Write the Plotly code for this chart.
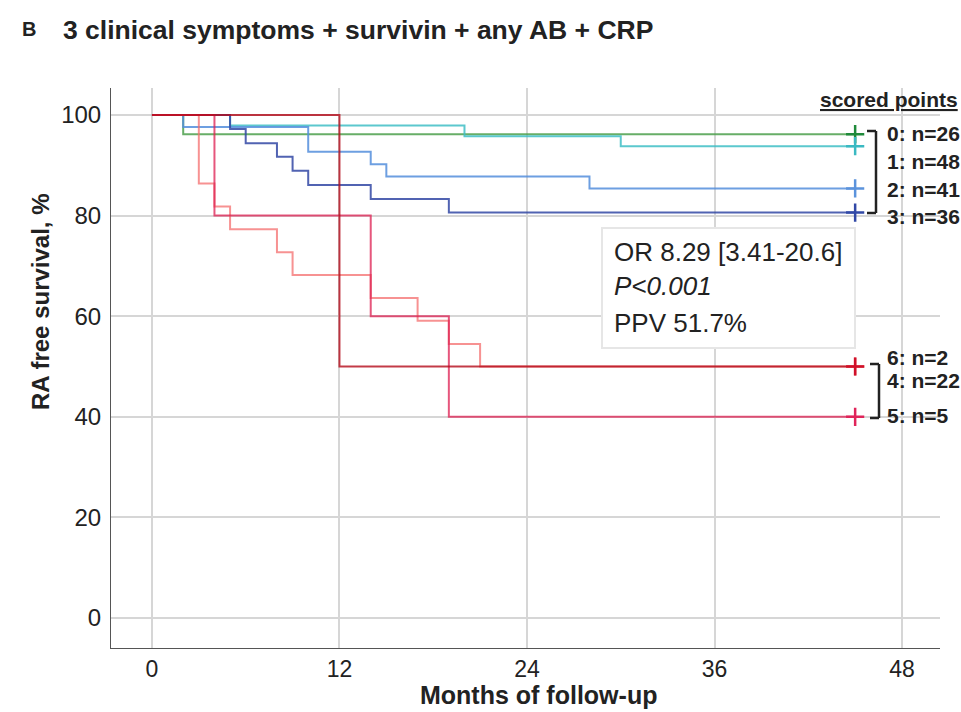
import plotly.graph_objects as go

# ---- data ----
groups = ["0", "1", "2", "3", "4", "5", "6"]
g0_t = [0, 2, 45];                                g0_s = [100, 96.2, 96.2]
g1_t = [0, 5, 20, 30, 45];                        g1_s = [100, 97.9, 95.8, 93.8, 93.8]
g2_t = [0, 2, 10, 14, 15, 28, 45];                g2_s = [100, 97.6, 92.7, 90.2, 87.8, 85.4, 85.4]
g3_t = [0, 5, 6, 8, 9, 10, 14, 19, 45];           g3_s = [100, 97.2, 94.4, 91.7, 88.9, 86.1, 83.3, 80.6, 80.6]
g4_t = [0, 3, 4, 5, 8, 9, 14, 17, 19, 21, 45];    g4_s = [100, 86.4, 81.8, 77.3, 72.7, 68.2, 63.6, 59.1, 54.5, 50.0, 50.0]
g5_t = [0, 4, 14, 19, 45];                        g5_s = [100, 80, 60, 40, 40]
g6_t = [0, 12, 45];                               g6_s = [100, 50, 50]
censor_time = 45

upper_labels = ["0: n=26", "1: n=48", "2: n=41", "3: n=36"]
lower_labels = ["6: n=2", "4: n=22", "5: n=5"]
x_ticks = [0, 12, 24, 36, 48]
y_ticks = [0, 20, 40, 60, 80, 100]
stats_lines = ["OR 8.29 [3.41-20.6]", "<i>P<0.001</i>", "PPV 51.7%"]

series = [
    (g0_t, g0_s, "rgba(76,160,76,0.85)", "#1f8a3a"),
    (g1_t, g1_s, "rgba(64,190,198,0.85)", "#3ab9c2"),
    (g2_t, g2_s, "rgba(84,142,220,0.85)", "#5b93dc"),
    (g3_t, g3_s, "rgba(50,72,165,0.85)", "#3148a6"),
    (g4_t, g4_s, "rgba(244,110,110,0.75)", "#f06a6a"),
    (g5_t, g5_s, "rgba(222,30,80,0.75)", "#e0245a"),
    (g6_t, g6_s, "rgba(180,10,25,0.80)", "#d0102a"),
]

FONT = "Liberation Sans, Arial, sans-serif"
fig = go.Figure()
for t, s, lc, mc in series:
    fig.add_trace(go.Scatter(x=t, y=s, mode="lines", line=dict(color=lc, width=2, shape="hv"),
                             showlegend=False, hoverinfo="skip"))
for t, s, lc, mc in series:
    fig.add_trace(go.Scatter(x=[censor_time], y=[s[-1]], mode="markers",
                             marker=dict(symbol="cross-thin", size=13, line=dict(color=mc, width=2.5)),
                             showlegend=False, hoverinfo="skip"))

# plot area in pixels
PX0, PX1, PY0, PY1 = 111, 940, 88, 648
def px(x): return (x - PX0) / (PX1 - PX0)
def py(y): return (PY1 - y) / (PY1 - PY0)

def note(text, x, y, size, xanchor="left", textangle=0):
    return dict(text=text, x=px(x), y=py(y), xref="paper", yref="paper", xanchor=xanchor,
                yanchor="middle", showarrow=False, textangle=textangle,
                font=dict(size=size, color="#222", family=FONT))

ann = [
    note("<b>B</b>", 20, 29, 20),
    note("<b>3 clinical symptoms + survivin + any AB + CRP</b>", 61, 30, 26.5),
    note("<b><u>scored points</u></b>", 960, 99, 21, xanchor="right"),
    note("<b>Months of follow-up</b>", 538, 695, 25, xanchor="center"),
    note("<b>RA free survival, %</b>", 40, 302, 24, xanchor="center", textangle=-90),
]
for lab, yy in zip(upper_labels, [133, 161, 189, 216]):
    ann.append(note("<b>%s</b>" % lab, 885, yy, 21))
for lab, yy in zip(lower_labels, [357, 381, 416]):
    ann.append(note("<b>%s</b>" % lab, 885, yy, 21))
for lab, yy in zip(stats_lines, [252, 286, 323]):
    ann.append(note(lab, 612, yy, 26))

shapes = []
shapes.append(dict(type="rect", xref="paper", yref="paper", x0=px(602), x1=px(855), y0=py(348), y1=py(228),
                   line=dict(color="#e6e6e6", width=2), fillcolor="white", layer="above"))
# brackets
bk = dict(color="#222", width=2.5)
shapes += [
    dict(type="line", xref="paper", yref="paper", x0=px(876), x1=px(876), y0=py(131), y1=py(213), line=bk),
    dict(type="line", xref="paper", yref="paper", x0=px(867), x1=px(876), y0=py(131), y1=py(131), line=bk),
    dict(type="line", xref="paper", yref="paper", x0=px(867), x1=px(876), y0=py(213), y1=py(213), line=bk),
    dict(type="line", xref="paper", yref="paper", x0=px(879), x1=px(879), y0=py(364), y1=py(418), line=bk),
    dict(type="line", xref="paper", yref="paper", x0=px(870), x1=px(879), y0=py(364), y1=py(364), line=bk),
    dict(type="line", xref="paper", yref="paper", x0=px(870), x1=px(879), y0=py(418), y1=py(418), line=bk),
]

fig.update_layout(
    width=961, height=712,
    margin=dict(l=PX0, r=961 - PX1, t=PY0, b=712 - PY1, pad=0),
    paper_bgcolor="white", plot_bgcolor="white",
    font=dict(family=FONT, color="#222"),
    annotations=ann, shapes=shapes,
    xaxis=dict(range=[-2.62, 50.43], tickvals=x_ticks, ticktext=[str(v) for v in x_ticks],
               showgrid=True, gridcolor="#d6d6d6", gridwidth=2, zeroline=False,
               showline=True, linecolor="#555", linewidth=1, ticks="", ticklen=0,
               tickfont=dict(size=23, color="#222")),
    yaxis=dict(range=[-5.96, 105.37], tickvals=y_ticks, ticktext=[str(v) for v in y_ticks],
               showgrid=True, gridcolor="#d6d6d6", gridwidth=2, zeroline=False,
               showline=True, linecolor="#555", linewidth=1, ticks="", ticklen=0,
               ticklabelstandoff=4,
               tickfont=dict(size=24, color="#222")),
)
fig.write_html("out.html", config={"displayModeBar": False},
               post_script="document.body.style.margin='0px';document.body.style.overflow='hidden';")
